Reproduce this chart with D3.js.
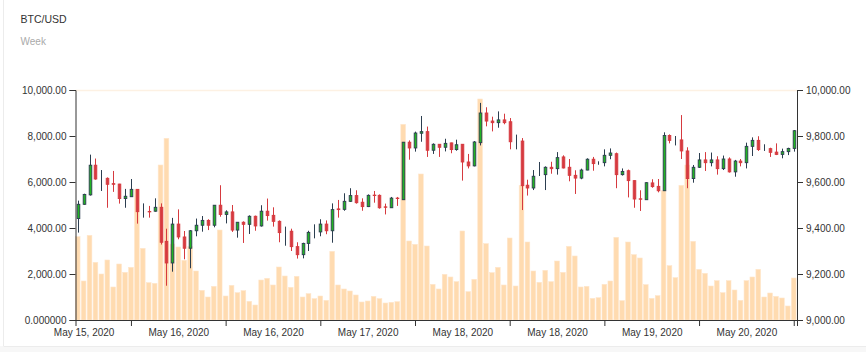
<!DOCTYPE html>
<html><head><meta charset="utf-8">
<script src="https://cdn.jsdelivr.net/npm/d3@7/dist/d3.min.js"></script>
<style>
html,body{margin:0;padding:0;background:#fff;}
svg{display:block;font-family:Arial,"Liberation Sans",sans-serif;}
</style></head>
<body><svg id="chart" width="866" height="352"></svg>
<script>
const title = "BTC/USD";
const subtitle = "Week";
const opens = [9441,9503,9544,9673,9616,9616,9593,9591,9528,9536,9568,9471,9472,9473,9490,9342,9248,9417,9361,9312,9388,9412,9433,9412,9499,9459,9470,9391,9425,9416,9451,9409,9473,9455,9429,9383,9386,9319,9284,9333,9383,9383,9417,9388,9483,9481,9516,9541,9512,9493,9543,9542,9492,9488,9530,9523,9773,9748,9812,9819,9738,9764,9751,9770,9741,9764,9687,9670,9771,9900,9865,9858,9870,9862,9778,9778,9586,9574,9628,9632,9664,9658,9709,9664,9629,9617,9652,9699,9684,9684,9716,9723,9632,9649,9606,9527,9523,9596,9581,9562,9802,9783,9783,9735,9615,9664,9696,9684,9696,9658,9700,9644,9691,9684,9755,9781,9742,9745,9730,9720,9732,9746];
const highs = [9519,9549,9719,9702,9652,9620,9648,9592,9570,9613,9569,9507,9496,9529,9507,9397,9444,9481,9387,9391,9441,9452,9438,9500,9586,9477,9500,9426,9429,9455,9454,9499,9528,9490,9433,9406,9397,9338,9336,9388,9416,9438,9433,9507,9522,9551,9573,9564,9529,9546,9561,9546,9506,9535,9535,9774,9781,9819,9887,9841,9768,9765,9788,9771,9784,9765,9722,9778,9944,9925,9884,9907,9897,9878,9806,9791,9610,9652,9687,9668,9688,9730,9716,9700,9651,9658,9703,9709,9690,9742,9746,9728,9659,9654,9607,9564,9599,9612,9613,9816,9807,9800,9891,9751,9674,9726,9730,9728,9712,9715,9707,9696,9700,9771,9794,9799,9764,9749,9768,9745,9749,9826];
const lows = [9380,9501,9541,9610,9561,9488,9557,9506,9488,9535,9419,9445,9445,9471,9328,9149,9210,9351,9264,9225,9364,9384,9391,9403,9449,9420,9383,9358,9335,9374,9388,9406,9432,9406,9338,9323,9300,9267,9268,9300,9355,9364,9373,9336,9445,9475,9513,9506,9475,9491,9510,9484,9459,9487,9496,9522,9697,9732,9775,9709,9722,9709,9733,9725,9736,9606,9659,9668,9759,9842,9820,9836,9851,9742,9742,9478,9541,9565,9626,9565,9636,9632,9659,9603,9548,9612,9651,9649,9675,9668,9699,9573,9628,9533,9488,9474,9522,9575,9555,9561,9768,9759,9700,9573,9597,9661,9648,9668,9632,9652,9641,9623,9668,9659,9713,9735,9735,9709,9717,9703,9717,9732];
const closes = [9503,9546,9673,9613,9616,9590,9590,9528,9538,9568,9471,9471,9470,9490,9338,9248,9417,9361,9312,9388,9412,9433,9412,9499,9459,9470,9391,9425,9416,9451,9409,9473,9454,9429,9380,9383,9319,9284,9333,9381,9383,9417,9388,9480,9480,9516,9541,9510,9493,9542,9541,9488,9490,9530,9528,9773,9748,9813,9819,9738,9764,9751,9768,9741,9762,9687,9670,9774,9900,9865,9858,9870,9858,9775,9778,9584,9574,9625,9628,9664,9658,9706,9661,9629,9617,9652,9699,9680,9684,9716,9726,9632,9646,9606,9526,9525,9597,9580,9562,9802,9781,9783,9735,9615,9664,9696,9684,9696,9658,9700,9644,9691,9684,9755,9781,9741,9742,9729,9720,9732,9746,9823];
const volumes = [3623,1696,3681,2507,2000,2609,1435,2435,2072,2290,5681,3116,1623,1594,6739,7899,3300,3174,2594,3188,2130,1290,1000,1464,3913,1043,1507,1188,1275,812,652,1739,1812,1522,2304,1913,1420,1899,1000,1145,928,1043,855,2986,1522,1348,1261,1087,783,826,1029,928,739,768,797,8507,3435,3290,6348,3217,1551,1348,1986,1870,1667,3870,1232,1768,9609,3319,2058,2290,1522,3565,1478,5855,3391,2130,1638,2159,1667,2565,2072,3203,2783,1435,1464,942,971,1551,1696,3594,841,3391,2841,2696,1536,942,1058,5623,2362,1841,5855,6739,3420,2203,2029,1478,1710,1188,1710,1304,855,1710,1870,2203,1000,1174,1029,957,609,1826];
const xTickIndex = [9,25,41,57,73,89,105,121];
const xTickLabels = ["May 15, 2020","May 16, 2020","May 16, 2020","May 17, 2020","May 18, 2020","May 18, 2020","May 19, 2020","May 20, 2020"];
const volTicks = [0,2000,4000,6000,8000,10000];
const volTickLabels = ["0.000000","2,000.00","4,000.00","6,000.00","8,000.00","10,000.00"];
const priceTicks = [9000,9200,9400,9600,9800,10000];

const svg = d3.select("#chart");
// card frame
svg.append("rect").attr("x",-1).attr("y",346).attr("width",870).attr("height",8).attr("fill","#f7f7f7");
svg.append("line").attr("x1",3.5).attr("x2",3.5).attr("y1",0).attr("y2",346).attr("stroke","#ececec");
svg.append("line").attr("x1",3.5).attr("x2",866).attr("y1",346.5).attr("y2",346.5).attr("stroke","#ececec");

svg.append("text").attr("x",20.5).attr("y",23).attr("font-size","10.5px").attr("fill","#333").text(title);
svg.append("text").attr("x",20.5).attr("y",44.5).attr("font-size","10px").attr("fill","#aaa").text(subtitle);

const L = 75.5, R = 797, T = 90, B = 320;
const n = closes.length;
const x = d3.scaleLinear().domain([-0.37, n - 0.45]).range([L, R]);
const yVol = d3.scaleLinear().domain([0,10000]).range([B,T]);
const yPrice = d3.scaleLinear().domain([9000,10000]).range([B,T]);
const step = x(1) - x(0);

// faint top line
svg.append("line").attr("x1",L).attr("x2",R).attr("y1",T+0.5).attr("y2",T+0.5).attr("stroke","#fdf1e3").attr("stroke-width",1.5);

const idx = d3.range(n);
// volume bars
svg.append("g").selectAll("rect").data(idx).join("rect")
  .attr("x", i => x(i) - 2.35).attr("width", 4.7)
  .attr("y", i => yVol(volumes[i])).attr("height", i => B - yVol(volumes[i]))
  .attr("fill","#ffdbb0").attr("stroke","#ffe6cc").attr("stroke-width",0.6);

// candles
const up = i => closes[i] >= opens[i];
const cg = svg.append("g");
cg.selectAll("line").data(idx).join("line")
  .attr("x1", i => Math.round(x(i)) + 0.5).attr("x2", i => Math.round(x(i)) + 0.5)
  .attr("y1", i => yPrice(highs[i])).attr("y2", i => yPrice(lows[i]))
  .attr("stroke", i => up(i) ? "#2c3e50" : "#d63a3f").attr("stroke-width",1);
cg.selectAll("rect").data(idx).join("rect")
  .attr("x", i => Math.round(x(i)) + 0.5 - 1.3).attr("width", 2.6)
  .attr("y", i => yPrice(Math.max(opens[i], closes[i])))
  .attr("height", i => Math.abs(yPrice(opens[i]) - yPrice(closes[i])))
  .attr("fill", i => up(i) ? "#22b422" : "#d63a3f")
  .attr("stroke", i => up(i) ? "#2c3e50" : "#d63a3f").attr("stroke-width",0.9);

// axes
const axisColor = "#333";
const gL = svg.append("g").attr("transform",`translate(${L},0)`)
  .call(d3.axisLeft(yVol).tickValues(volTicks).tickFormat((d,i)=>volTickLabels[i]));
const gR = svg.append("g").attr("transform",`translate(${R},0)`)
  .call(d3.axisRight(yPrice).tickValues(priceTicks).tickFormat(d3.format(",.2f")));
const gB = svg.append("g").attr("transform",`translate(0,${B})`)
  .call(d3.axisBottom(x).tickValues(xTickIndex).tickFormat((d,i)=>xTickLabels[i]));
gB.selectAll(".tick text").attr("x", -step*8);
[gL,gR,gB].forEach(g => {
  g.attr("font-family","Arial, 'Liberation Sans', sans-serif").attr("font-size",10);
  g.selectAll("path,line").attr("stroke",axisColor);
  g.selectAll("text").attr("fill",axisColor);
});
</script></body></html>
